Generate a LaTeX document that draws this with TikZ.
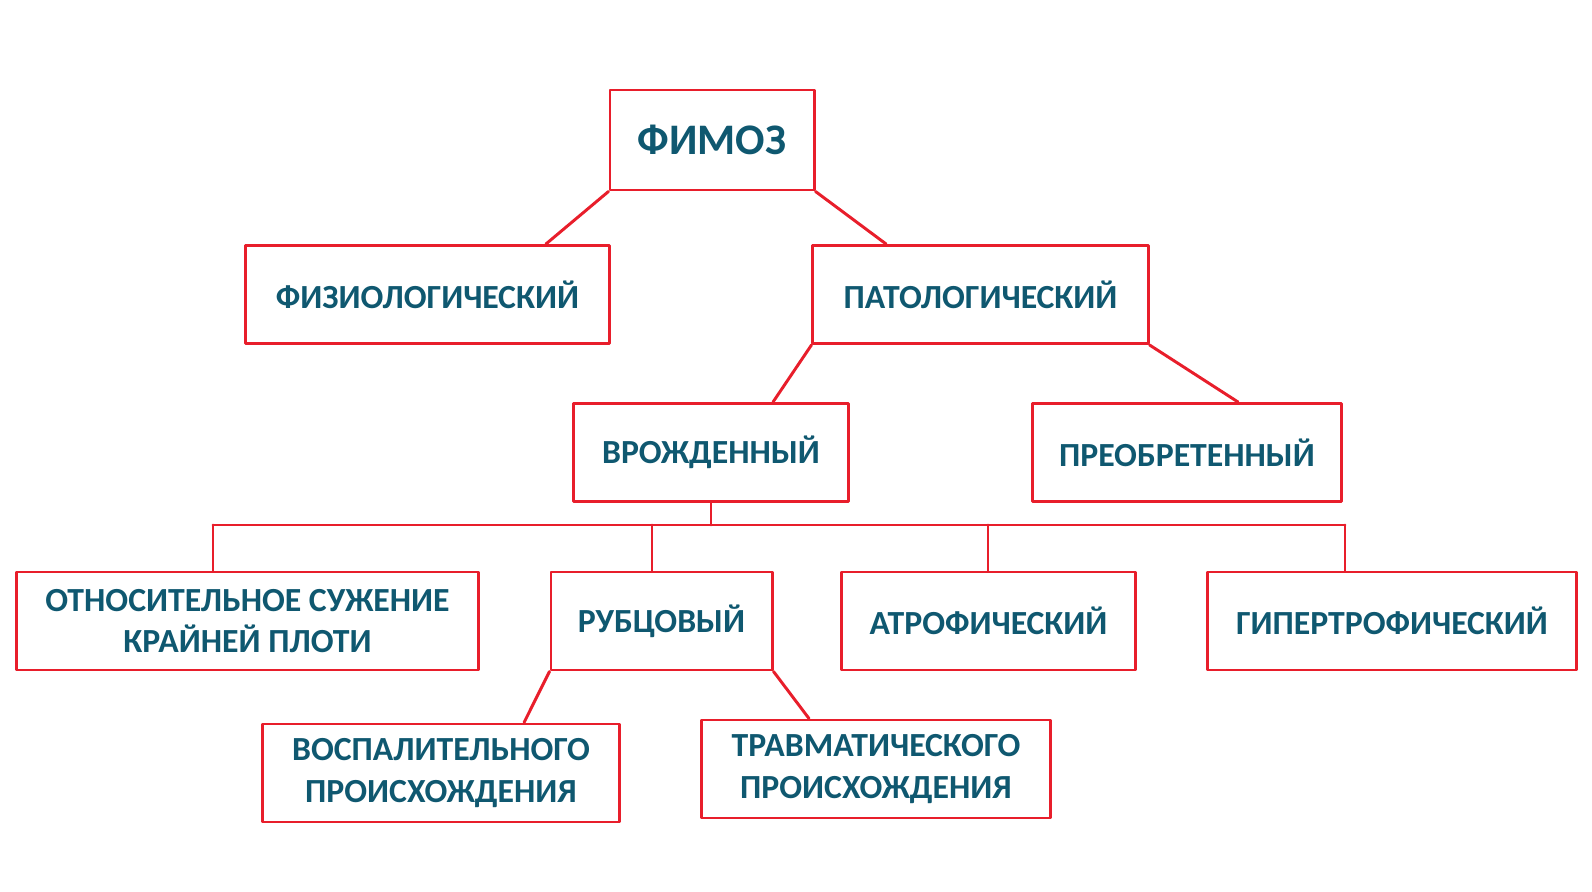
\documentclass[tikz,border=0pt]{standalone}
\usepackage{fontspec}
\setmainfont{Carlito}
\usepackage{xcolor}
\usepackage{tikz}
\usetikzlibrary{positioning,calc}
\definecolor{boxred}{HTML}{E81E2B}
\definecolor{deepteal}{HTML}{0F5870}
\tikzset{
    every picture/.style={line cap=round,line join=round},
    classbox/.style={draw=boxred,fill=white,line width=2.1pt,
      minimum height=2.45cm,inner sep=2pt,
      font=\fontsize{24}{29.5}\selectfont\bfseries,text=deepteal,align=center},
    rootbox/.style={classbox,minimum height=2.5cm,
      font=\fontsize{31}{36}\selectfont\bfseries},
    treeline/.style={draw=boxred,line width=2.1pt}
}
\begin{document}
\begin{tikzpicture}[x=0.025cm,y=-0.025cm]
  \useasboundingbox (0,0) rectangle (1592,892);
  \node[rootbox,minimum width=5.1cm] (fimoz) at (712,140) {ФИМОЗ};
  \node[classbox,minimum width=9.075cm] (fiz) at (427.5,294.5) {ФИЗИОЛОГИЧЕСКИЙ};
  \node[classbox,minimum width=8.375cm] (pat) at (980.5,294.5) {ПАТОЛОГИЧЕСКИЙ};
  \node[classbox,minimum width=6.85cm] (vrozh) at (711,452.5) {ВРОЖДЕННЫЙ};
  \node[classbox,minimum width=7.7cm] (preob) at (1187,452.5) {ПРЕОБРЕТЕННЫЙ};
  \node[classbox,minimum width=11.525cm] (otn) at (247.5,621) {ОТНОСИТЕЛЬНОЕ СУЖЕНИЕ\\КРАЙНЕЙ ПЛОТИ};
  \node[classbox,minimum width=5.525cm] (rub) at (661.5,621) {РУБЦОВЫЙ};
  \node[classbox,minimum width=7.325cm] (atr) at (988.5,621) {АТРОФИЧЕСКИЙ};
  \node[classbox,minimum width=9.2cm] (gip) at (1392,621) {ГИПЕРТРОФИЧЕСКИЙ};
  \node[classbox,minimum width=8.9cm] (vosp) at (441,773) {ВОСПАЛИТЕЛЬНОГО\\ПРОИСХОЖДЕНИЯ};
  \node[classbox,minimum width=8.7cm] (trav) at (876,769) {ТРАВМАТИЧЕСКОГО\\ПРОИСХОЖДЕНИЯ};
  \coordinate (b1) at (213,525);
  \coordinate (b2) at (652,525);
  \coordinate (b3) at (988,525);
  \coordinate (b4) at (1345,525);
  \draw[treeline] (fimoz.south west) -- ([xshift=2.96cm]fiz.north);
  \draw[treeline] (fimoz.south east) -- ([xshift=-2.36cm]pat.north);
  \draw[treeline] (pat.south west) -- ([xshift=1.55cm]vrozh.north);
  \draw[treeline] (pat.south east) -- ([xshift=1.275cm]preob.north);
  \draw[treeline] (vrozh.south) -- (vrozh.south |- b1);
  \draw[treeline] (b1) -- (b4);
  \draw[treeline] (b1) -- (b1 |- otn.north);
  \draw[treeline] (b2) -- (b2 |- rub.north);
  \draw[treeline] (b3) -- (b3 |- atr.north);
  \draw[treeline] (b4) -- (b4 |- gip.north);
  \draw[treeline] (rub.south west) -- ([xshift=2.075cm]vosp.north);
  \draw[treeline] (rub.south east) -- ([xshift=-1.675cm]trav.north);
\end{tikzpicture}
\end{document}
